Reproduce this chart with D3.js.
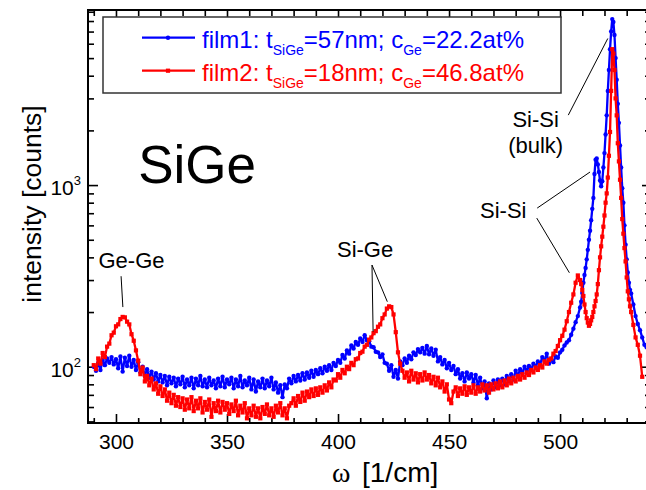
<!DOCTYPE html>
<html><head><meta charset="utf-8">
<script src="https://cdn.jsdelivr.net/npm/d3@7"></script>
<style>body{margin:0;background:#fff}svg{display:block}text{font-family:"Liberation Sans",Arial,sans-serif}</style>
</head><body><svg id="c" width="646" height="490"></svg>
<script>
// Raman shift grid [1/cm]
const omega = [
290,291,292,293,294,295,296,297,298,299,
300,301,302,303,304,305,306,307,308,309,
310,311,312,313,314,315,316,317,318,319,
320,321,322,323,324,325,326,327,328,329,
330,331,332,333,334,335,336,337,338,339,
340,341,342,343,344,345,346,347,348,349,
350,351,352,353,354,355,356,357,358,359,
360,361,362,363,364,365,366,367,368,369,
370,371,372,373,374,375,376,377,378,379,
380,381,382,383,384,385,386,387,388,389,
390,391,392,393,394,395,396,397,398,399,
400,401,402,403,404,405,406,407,408,409,
410,411,412,413,414,415,416,417,418,419,
420,421,422,423,424,425,426,427,428,429,
430,431,432,433,434,435,436,437,438,439,
440,441,442,443,444,445,446,447,448,449,
450,451,452,453,454,455,456,457,458,459,
460,461,462,463,464,465,466,467,468,469,
470,471,472,473,474,475,476,477,478,479,
480,481,482,483,484,485,486,487,488,489,
490,491,492,493,494,495,496,497,498,499,
500,501,502,503,504,505,506,507,508,509,
509.5,510,510.5,511,511.5,512,512.5,513,513.5,514,
514.5,515,515.5,516,516.5,517,517.5,518,518.5,519,
519.5,520,520.5,521,521.5,522,522.5,523,523.5,524,
524.5,525,525.5,526,526.5,527,527.5,528,528.5,529,
529.5,530,530.5,531,531.5,532,
533,534,535,536,537,538,539,540];

// film1: t_SiGe = 57 nm, c_Ge = 22.2 at%  (counts)
const film1 = [
100,95,105,96,109,102,111,105,113,103,
110,98,114,94,112,101,115,100,109,96,
106,93,100,89,97,87,94,85,92,83,
90,82,89,79,88,81,87,78,86,80,
88,77,85,79,87,76,86,79,89,78,
85,77,87,79,84,76,86,78,88,77,
85,80,87,76,85,78,89,77,84,79,
87,75,85,73,83,77,86,76,84,78,
87,75,82,72,79,68,80,76,86,81,
89,83,90,84,92,85,93,87,95,88,
96,91,98,92,100,95,102,96,105,101,
109,105,116,111,123,118,131,126,137,132,
143,137,149,140,138,129,128,121,120,113,
117,105,104,95,102,88,96,86,107,102,
111,105,115,110,120,116,125,120,127,118,
130,117,126,115,124,107,113,103,109,98,
105,96,101,91,97,86,92,83,93,86,
91,82,90,79,87,76,83,67,81,75,
84,77,85,79,86,80,89,83,91,85,
95,89,97,92,100,95,101,97,104,100,
107,103,113,108,118,104,110,106,114,112,
120,124,131,136,140,150,162,176,190,212,
228,255,290,320,350,390,440,500,560,640,
740,850,1150,1380,1400,1300,1180,1060,985,1050,
1250,1500,1900,2420,3300,4300,5600,7000,8200,7900,
6700,5000,3800,2800,2200,1650,1250,960,800,600,
470,390,330,290,265,253,
220,190,172,159,145,132,128,125];

// film2: t_SiGe = 18 nm, c_Ge = 46.8 at%  (counts)
const film2 = [
102,97,111,104,119,113,129,134,149,154,
167,171,183,188,187,177,171,151,139,123,
108,91,99,83,89,79,86,75,81,71,
78,69,75,65,72,63,70,61,68,60,
67,58,66,59,68,57,65,59,67,56,
64,58,66,53,63,57,65,56,64,58,
63,55,62,57,65,54,61,56,63,52,
59,54,61,53,59,52,60,55,62,54,
59,53,61,56,63,54,59,52,61,63,
67,61,69,64,72,65,73,68,75,69,
76,70,77,72,79,74,82,77,85,84,
91,87,96,92,100,97,105,102,110,111,
119,121,129,132,141,145,153,157,166,171,
185,194,209,215,213,194,155,120,104,95,
87,93,83,95,85,92,82,91,84,93,
85,90,81,88,79,87,77,83,73,80,
66,63,73,77,69,76,71,78,70,77,
72,79,71,77,73,80,74,79,72,80,
75,81,76,83,77,84,79,86,81,87,
83,89,85,91,87,93,90,96,93,99,
96,102,99,107,104,109,111,118,122,130,
140,148,160,178,200,225,250,290,318,300,
285,265,245,220,200,185,175,168,172,180,
188,200,215,230,250,285,340,400,460,520,
590,680,800,900,1100,1450,1960,3300,5600,5300,
4300,3000,2420,1700,1350,1070,850,650,540,450,
380,310,260,235,215,200,
170,145,132,115,88,null,null,null];

const xMajorTicks = [300,350,400,450,500];
const xMinorTicks = [290,310,320,330,340,360,370,380,390,410,420,430,440,460,470,480,490,510,520,530,540];
const yMajorTicks = [100,1000];
const yMajorExp = ["2","3"];
const yMinorTicks = [50,60,70,80,90,200,300,400,500,600,700,800,900,2000,3000,4000,5000,6000,7000,8000,9000];
const legendMain = ["film1: t","film2: t"];
const legendSub1 = ["SiGe","SiGe"];
const legendMid = ["=57nm; c","=18nm; c"];
const legendSub2 = ["Ge","Ge"];
const legendEnd = ["=22.2at%","=46.8at%"];
const seriesColors = ["#0000ff","#ff0000"];
const annotations = [
  {lines:["Ge-Ge"], at:[307,349], leaders:[[[302.3,315],[303.1,213]]]},
  {lines:["Si-Ge"], at:[412.2,401], leaders:[[[415.3,363],[415.8,156]],[[415.3,363],[422.2,228]]]},
  {lines:["Si-Si"], at:[474.4,658], leaders:[[[489.7,747],[513.5,1180]],[[489.5,658],[504.2,329]]]},
  {lines:["Si-Si","(bulk)"], at:[489,2094], leaders:[[[503.7,2427],[521.5,6412]]]}
];

const L=88,R=650,T=10,B=423;
const x = d3.scaleLinear().domain([287.4,540.5]).range([L,R]);
const y = d3.scaleLog().domain([49,9200]).range([B,T]);
const svg = d3.select('#c');
svg.append('rect').attr('width',646).attr('height',490).attr('fill','#fff');
svg.append('defs').append('clipPath').attr('id','clip')
  .append('rect').attr('x',L).attr('y',T).attr('width',R-L).attr('height',B-T);

function styleAxis(g){ g.select('.domain').remove(); g.selectAll('.tick line').attr('stroke','#000').attr('stroke-width',1.6); }
svg.append('g').attr('transform',`translate(0,${B})`)
  .call(d3.axisBottom(x).tickValues(xMajorTicks).tickSize(-9).tickPadding(11).tickFormat(d3.format('d')))
  .call(styleAxis)
  .call(g=>g.selectAll('text').attr('font-size',21).attr('fill','#000').attr('font-family','"Liberation Sans",Arial,sans-serif'));
svg.append('g').attr('transform',`translate(0,${B})`)
  .call(d3.axisBottom(x).tickValues(xMinorTicks).tickSize(-5).tickFormat('')).call(styleAxis);
svg.append('g').attr('transform',`translate(0,${T})`)
  .call(d3.axisTop(x).tickValues(xMajorTicks).tickSize(-8).tickFormat('')).call(styleAxis);
svg.append('g').attr('transform',`translate(0,${T})`)
  .call(d3.axisTop(x).tickValues(xMinorTicks).tickSize(-6).tickFormat('')).call(styleAxis);
svg.append('g').attr('transform',`translate(${L},0)`)
  .call(d3.axisLeft(y).tickValues(yMajorTicks).tickSize(-10).tickFormat('')).call(styleAxis);
svg.append('g').attr('transform',`translate(${L},0)`)
  .call(d3.axisLeft(y).tickValues(yMinorTicks).tickSize(-6).tickFormat('')).call(styleAxis);
svg.append('g').attr('transform',`translate(${R},0)`)
  .call(d3.axisRight(y).tickValues(yMajorTicks).tickSize(-8).tickFormat('')).call(styleAxis);
svg.append('g').attr('transform',`translate(${R},0)`)
  .call(d3.axisRight(y).tickValues(yMinorTicks).tickSize(-5).tickFormat('')).call(styleAxis);

yMajorTicks.forEach((v,i)=>{
  const t = svg.append('text').attr('x',81).attr('y',y(v)+10).attr('text-anchor','end').attr('font-size',21).attr('fill','#000');
  t.append('tspan').text('10');
  t.append('tspan').attr('dy',-10).attr('font-size',13).text(yMajorExp[i]);
});

svg.append('rect').attr('x',L).attr('y',T).attr('width',R-L).attr('height',B-T)
  .attr('fill','none').attr('stroke','#000').attr('stroke-width',2);

const plot = svg.append('g').attr('clip-path','url(#clip)');
const seriesVals = [film1, film2];
seriesVals.forEach((vals,si)=>{
  const pts = omega.map((w,i)=>({w, v: vals[i]})).filter(d=>d.v!=null);
  plot.append('path').datum(pts)
    .attr('d', d3.line().x(d=>x(d.w)).y(d=>y(d.v)))
    .attr('fill','none').attr('stroke',seriesColors[si]).attr('stroke-width',2.3).attr('stroke-linejoin','round');
  if(si===0){
    plot.append('g').selectAll('circle').data(pts).join('circle')
      .attr('cx',d=>x(d.w)).attr('cy',d=>y(d.v)).attr('r',2.2).attr('fill',seriesColors[si]);
  } else {
    plot.append('g').selectAll('rect').data(pts).join('rect')
      .attr('x',d=>x(d.w)-2.1).attr('y',d=>y(d.v)-2.1).attr('width',4.2).attr('height',4.2).attr('fill',seriesColors[si]);
  }
});

annotations.forEach(a=>{
  a.leaders.forEach(l=>{
    svg.append('line').attr('x1',x(l[0][0])).attr('y1',y(l[0][1])).attr('x2',x(l[1][0])).attr('y2',y(l[1][1]))
      .attr('stroke','#000').attr('stroke-width',1);
  });
  a.lines.forEach((s,i)=>{
    svg.append('text').attr('x',x(a.at[0])).attr('y',y(a.at[1])+i*26.5).attr('text-anchor','middle')
      .attr('font-size',22).attr('fill','#000').text(s);
  });
});

svg.append('text').attr('x',x(310)).attr('y',y(1030)).attr('font-size',53).attr('fill','#000').text('SiGe');

const xt = svg.append('text').attr('y',482).attr('font-size',28).attr('fill','#000');
xt.append('tspan').attr('x',332).attr('font-family','"Liberation Serif","Times New Roman",serif').text('ω');
xt.append('tspan').attr('x',362).text('[1/cm]');
svg.append('text').attr('transform','translate(41,204) rotate(-90)').attr('text-anchor','middle')
  .attr('font-size',26.5).attr('fill','#000').text('intensity [counts]');

const lg = svg.append('g');
lg.append('rect').attr('x',103).attr('y',17).attr('width',458).attr('height',76)
  .attr('fill','#fff').attr('stroke','#333').attr('stroke-width',1.5);
[0,1].forEach(i=>{
  const ly = 37.7 + i*33;
  lg.append('line').attr('x1',142).attr('x2',195).attr('y1',ly).attr('y2',ly).attr('stroke',seriesColors[i]).attr('stroke-width',2.3);
  if(i===0) lg.append('circle').attr('cx',168).attr('cy',ly).attr('r',2.2).attr('fill',seriesColors[i]);
  else lg.append('rect').attr('x',165.9).attr('y',ly-2.1).attr('width',4.2).attr('height',4.2).attr('fill',seriesColors[i]);
  const t = lg.append('text').attr('x',202).attr('y',ly+10.6).attr('font-size',24).attr('fill',seriesColors[i]);
  t.append('tspan').text(legendMain[i]);
  t.append('tspan').attr('dy',6.5).attr('font-size',14).text(legendSub1[i]);
  t.append('tspan').attr('dy',-6.5).text(legendMid[i]);
  t.append('tspan').attr('dy',6.5).attr('font-size',14).text(legendSub2[i]);
  t.append('tspan').attr('dy',-6.5).text(legendEnd[i]);
});
</script></body></html>
